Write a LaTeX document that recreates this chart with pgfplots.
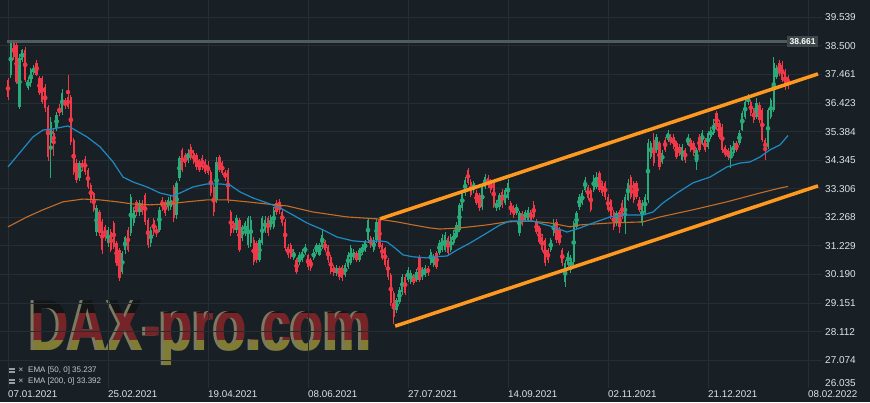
\documentclass[border=0pt]{standalone}
\usepackage{fontspec}
\setmainfont{Liberation Sans}
\usepackage{graphicx}
\usepackage{pgfplots}
\usepackage{pgfplotstable}
\pgfplotsset{compat=1.18}
\definecolor{bg}{RGB}{25,32,37}
\definecolor{gridc}{RGB}{38,46,52}
\definecolor{cup}{RGB}{41,171,121}
\definecolor{cdn}{RGB}{240,56,72}
\definecolor{emab}{RGB}{30,138,196}
\definecolor{emao}{RGB}{196,108,40}
\definecolor{chan}{RGB}{255,152,31}
\definecolor{hlinec}{RGB}{78,92,94}
\definecolor{hlbox}{RGB}{62,72,75}
\definecolor{lbl}{RGB}{222,226,229}
\definecolor{leg}{RGB}{196,201,205}
\definecolor{icon}{RGB}{150,158,162}
\definecolor{wmk}{RGB}{20,21,22}
\definecolor{wmr}{RGB}{118,36,40}
\definecolor{wmg}{RGB}{128,124,52}
\definecolor{wms}{RGB}{122,122,98}

\pgfplotstableread{
i o h l c
0 37.26 37.35 36.55 36.64
1 37.44 38.66 37.35 38.61
2 38.61 38.66 38.00 38.10
3 38.53 38.60 37.10 37.19
4 36.28 38.20 36.20 38.06
5 37.99 38.40 37.90 38.35
6 38.35 38.45 37.20 37.26
7 36.97 37.35 36.90 37.26
8 37.15 37.70 37.00 37.62
9 37.52 37.80 37.45 37.70
10 37.88 38.00 37.40 37.44
11 37.33 37.40 36.70 36.79
12 37.33 37.40 36.40 36.46
13 37.01 37.10 36.10 36.24
14 36.28 36.35 34.30 34.46
15 34.97 35.90 33.70 35.73
16 35.33 35.50 34.50 34.97
17 35.52 36.10 35.40 35.99
18 36.24 36.40 35.95 36.06
19 36.10 36.95 36.00 36.79
20 36.53 36.60 36.20 36.35
21 36.64 37.44 36.20 36.28
22 36.64 36.70 34.90 35.01
23 35.08 35.15 33.80 33.92
24 34.24 34.40 33.50 33.62
25 33.70 34.30 33.60 34.24
26 34.24 34.35 33.95 34.10
27 34.39 34.50 33.80 33.92
28 33.99 34.05 33.30 33.37
29 33.44 33.50 32.80 32.90
30 33.15 33.20 32.45 32.53
31 31.73 32.70 31.60 32.61
32 32.46 32.55 31.60 31.70
33 32.06 32.20 30.95 31.08
34 31.91 32.00 31.40 31.55
35 31.33 31.90 31.20 31.81
36 31.73 31.85 31.00 31.08
37 32.06 32.15 31.10 31.19
38 31.33 31.40 30.50 30.61
39 31.08 31.15 29.95 30.06
40 30.28 31.05 30.20 30.97
41 31.08 31.60 30.95 31.55
42 31.81 31.90 31.00 31.08
43 31.70 33.10 31.60 33.01
44 32.06 32.65 31.95 32.53
45 32.82 32.90 32.30 32.46
46 32.46 32.90 32.30 32.79
47 32.79 32.90 32.35 32.46
48 33.08 33.15 32.00 32.10
49 32.17 32.25 31.15 31.26
50 31.33 31.90 31.20 31.81
51 32.17 32.25 31.60 31.73
52 31.81 31.95 31.55 31.70
53 31.81 32.65 31.75 32.53
54 32.90 33.00 32.50 32.64
55 32.82 32.90 32.30 32.42
56 32.64 33.00 32.50 32.90
57 32.64 33.05 32.55 32.90
58 33.37 33.45 32.10 32.24
59 32.35 33.60 32.20 33.52
60 33.70 34.50 33.60 34.42
61 34.72 34.80 33.90 33.99
62 34.53 34.60 34.10 34.24
63 34.35 34.75 34.25 34.61
64 34.83 34.95 34.35 34.46
65 34.61 34.70 34.20 34.28
66 34.53 34.60 34.00 34.10
67 34.28 34.40 33.90 33.99
68 34.42 34.55 34.00 34.10
69 34.28 34.40 33.85 33.92
70 34.17 34.30 33.80 33.88
71 33.92 34.00 33.05 33.15
72 33.37 33.45 32.30 32.46
73 32.90 34.45 32.80 34.28
74 34.46 34.55 33.90 33.99
75 34.24 34.30 33.80 33.88
76 33.92 34.00 33.60 33.70
77 33.99 34.05 32.80 32.90
78 32.46 32.55 31.60 31.70
79 32.06 32.15 31.70 31.81
80 31.81 32.35 31.70 32.24
81 32.17 32.25 31.00 31.08
82 31.51 32.00 31.40 31.91
83 31.70 32.15 31.60 32.06
84 31.26 32.30 31.15 32.24
85 31.33 32.30 31.20 32.17
86 31.44 31.55 30.55 30.64
87 31.33 31.40 30.60 30.72
88 30.72 31.50 30.65 31.44
89 31.33 32.30 31.25 32.24
90 31.81 32.30 31.70 32.17
91 32.24 32.30 31.60 31.70
92 31.91 32.35 31.80 32.28
93 31.91 32.65 31.85 32.53
94 32.79 32.90 32.35 32.46
95 32.82 32.95 32.40 32.53
96 32.46 32.55 31.95 32.06
97 32.10 32.20 31.05 31.15
98 31.19 31.30 30.80 30.90
99 31.26 31.35 30.75 30.83
100 30.79 31.10 30.70 31.01
101 30.72 30.80 30.20 30.28
102 30.64 31.00 30.55 30.90
103 30.72 31.10 30.65 31.01
104 30.97 31.30 30.90 31.19
105 30.90 30.95 30.35 30.46
106 30.72 30.80 30.30 30.43
107 30.79 31.10 30.70 31.01
108 31.01 31.35 30.95 31.26
109 30.90 31.35 30.85 31.26
110 31.19 31.80 31.10 31.62
111 31.37 31.45 31.00 31.08
112 31.19 31.25 30.60 30.72
113 30.83 30.90 30.20 30.28
114 30.46 30.55 30.15 30.24
115 30.24 30.55 30.15 30.43
116 30.43 30.50 30.00 30.10
117 30.46 30.55 29.95 30.06
118 30.17 30.60 30.10 30.53
119 30.46 31.00 30.40 30.90
120 30.61 31.25 30.55 31.15
121 30.79 31.10 30.70 31.01
122 30.97 31.05 30.65 30.72
123 30.72 31.15 30.65 31.08
124 30.97 31.30 30.90 31.19
125 31.08 31.45 31.00 31.37
126 31.44 32.25 31.35 32.17
127 31.51 31.60 31.15 31.26
128 31.08 31.55 31.00 31.44
129 31.44 32.20 31.35 32.10
130 32.17 32.22 31.10 31.19
131 31.26 31.35 30.70 30.79
132 31.15 31.20 30.45 30.53
133 30.72 30.80 30.00 30.10
134 30.17 30.25 29.05 29.15
135 29.52 29.60 28.38 28.64
136 28.90 29.35 28.80 29.26
137 29.19 29.75 29.10 29.63
138 29.55 30.20 29.45 30.10
139 30.10 30.20 29.45 29.52
140 29.99 30.45 29.90 30.35
141 29.92 30.35 29.85 30.24
142 30.10 30.20 29.80 29.88
143 29.99 30.40 29.90 30.28
144 30.79 30.90 29.90 29.99
145 30.10 30.45 30.00 30.35
146 30.17 30.55 30.10 30.43
147 30.43 30.50 30.15 30.24
148 30.61 31.10 30.55 31.01
149 30.53 30.95 30.45 30.83
150 30.97 31.05 30.40 30.46
151 30.97 31.45 30.90 31.33
152 31.08 31.65 31.00 31.51
153 31.08 31.75 31.00 31.62
154 31.51 31.60 30.90 30.97
155 31.08 31.65 31.00 31.55
156 31.33 31.80 31.25 31.70
157 31.55 32.10 31.50 31.99
158 31.81 32.80 31.75 32.72
159 32.60 33.25 32.50 33.15
160 33.15 33.75 33.05 33.62
161 33.99 34.06 33.45 33.52
162 33.55 33.65 33.00 33.08
163 33.26 33.60 33.15 33.52
164 33.15 33.25 32.70 32.79
165 33.08 33.15 32.50 32.60
166 32.64 33.45 32.55 33.37
167 33.37 33.85 33.30 33.73
168 33.70 33.80 33.35 33.44
169 33.55 33.65 33.15 33.26
170 33.52 33.60 32.60 32.72
171 32.60 32.90 32.50 32.79
172 32.64 33.15 32.55 33.08
173 33.19 33.30 32.60 32.72
174 32.79 33.35 32.70 33.26
175 32.97 33.65 32.90 33.52
176 32.79 32.85 32.35 32.46
177 32.60 32.70 32.25 32.35
178 32.42 32.75 32.35 32.64
179 31.70 32.50 31.60 32.42
180 32.42 32.50 31.95 32.06
181 32.17 32.55 32.10 32.46
182 32.17 32.65 32.10 32.53
183 32.46 32.55 32.10 32.17
184 32.72 32.85 32.20 32.28
185 32.10 32.20 31.65 31.73
186 31.88 31.95 31.30 31.37
187 31.55 31.65 31.00 31.08
188 31.44 31.50 30.50 30.61
189 31.08 31.15 30.60 30.72
190 31.08 31.50 31.00 31.44
191 31.70 32.20 31.60 32.06
192 32.10 32.20 31.35 31.44
193 31.81 31.90 31.25 31.33
194 31.08 31.15 30.50 30.61
195 29.92 30.70 29.73 30.61
196 30.53 31.05 30.45 30.97
197 30.35 30.90 30.25 30.79
198 30.64 32.15 30.55 32.06
199 31.91 32.50 31.85 32.42
200 32.64 33.10 32.55 33.01
201 32.79 33.25 32.70 33.15
202 33.26 33.75 33.20 33.62
203 33.37 33.45 32.90 32.97
204 33.26 33.35 32.45 32.53
205 33.26 33.80 33.20 33.70
206 33.37 33.92 33.30 33.73
207 33.88 33.95 33.20 33.26
208 33.52 33.60 33.05 33.15
209 33.52 33.60 32.90 33.01
210 33.01 33.10 32.45 32.53
211 32.90 32.95 32.20 32.28
212 32.46 32.55 31.80 31.91
213 32.06 32.50 31.95 32.42
214 32.46 32.55 31.70 31.91
215 32.79 32.90 32.20 32.28
216 32.06 33.10 31.65 33.01
217 32.90 33.65 32.85 33.52
218 33.73 33.80 32.95 33.01
219 33.52 33.60 32.80 32.90
220 33.52 33.60 32.95 33.01
221 32.90 33.00 32.45 32.53
222 32.06 32.90 31.95 32.79
223 32.46 33.10 32.40 33.01
224 32.90 35.10 32.80 34.97
225 34.46 35.05 34.40 34.97
226 35.08 35.33 34.15 34.24
227 34.72 35.30 34.60 35.19
228 34.97 35.05 34.00 34.10
229 34.28 34.70 34.20 34.61
230 35.08 35.20 34.65 34.72
231 35.08 35.45 35.00 35.33
232 35.19 35.30 34.90 34.97
233 35.19 35.30 34.75 34.83
234 34.97 35.05 34.40 34.46
235 34.83 34.95 34.50 34.61
236 34.35 34.95 34.30 34.83
237 34.72 34.80 34.25 34.35
238 34.90 35.30 34.85 35.19
239 35.08 35.15 34.65 34.72
240 34.97 35.05 34.50 34.61
241 34.28 34.80 33.99 34.72
242 35.19 35.30 34.65 34.72
243 34.97 35.45 34.90 35.33
244 35.08 35.15 34.65 34.72
245 34.83 35.40 34.75 35.33
246 35.19 35.55 35.10 35.44
247 35.33 35.85 35.25 35.70
248 36.06 36.15 35.45 35.55
249 35.70 35.80 35.10 35.19
250 35.55 35.65 34.60 34.72
251 34.83 34.90 34.45 34.53
252 34.72 34.80 34.35 34.46
253 34.42 34.90 34.06 34.79
254 34.61 35.05 34.50 34.97
255 34.97 35.05 34.65 34.72
256 34.97 35.45 34.90 35.33
257 35.44 36.15 35.40 36.06
258 35.92 36.55 35.85 36.46
259 36.46 36.75 36.35 36.61
260 36.46 36.55 35.95 36.06
261 36.17 36.25 35.70 35.81
262 35.92 36.60 35.85 36.42
263 36.35 36.45 35.70 35.81
264 36.17 36.25 35.00 35.08
265 35.08 35.15 34.35 34.72
266 34.83 36.25 34.75 36.17
267 35.92 36.60 35.85 36.53
268 36.17 38.10 36.10 37.88
269 37.37 37.80 37.30 37.70
270 37.88 38.00 37.40 37.52
271 37.81 37.95 37.20 37.26
272 37.55 37.65 36.90 37.08
273 37.35 37.45 36.95 37.10
}\ohlc

\newcommand\wm{\scalebox{0.737}[1]{\fontsize{72.6}{72.6}\selectfont\bfseries DAX-pro.com}}

\begin{document}
\begin{tikzpicture}
\path[use as bounding box] (0pt,0pt) rectangle (870pt,402pt);
\fill[bg] (0pt,0pt) rectangle (870pt,402pt);

% watermark
\node[anchor=base west, inner sep=0pt, text=wms] at (27pt,52pt) {\wm};
\begin{scope}
  \clip (0pt,89pt) rectangle (400pt,130pt);
  \node[anchor=base west, inner sep=0pt, text=wmk] at (30pt,52pt) {\wm};
\end{scope}
\begin{scope}
  \clip (0pt,62pt) rectangle (400pt,89pt);
  \node[anchor=base west, inner sep=0pt, text=wmr] at (30pt,52pt) {\wm};
\end{scope}
\begin{scope}
  \clip (0pt,20pt) rectangle (400pt,62pt);
  \node[anchor=base west, inner sep=0pt, text=wmg] at (30pt,52pt) {\wm};
\end{scope}

\begin{axis}[
  at={(0pt,14pt)}, anchor=south west,
  width=822pt, height=388pt, scale only axis,
  xmin=-2.8, xmax=284.9, ymin=26.06, ymax=40.168,
  clip mode=individual,
  axis line style={draw=none}, tick style={draw=none},
  xtick={0,35,70,105,140,175,210,245,280},
  xticklabels={07.01.2021,25.02.2021,19.04.2021,08.06.2021,27.07.2021,14.09.2021,02.11.2021,21.12.2021,08.02.2022},
  ytick={39.539,38.5,37.461,36.423,35.384,34.345,33.306,32.268,31.229,30.19,29.151,28.112,27.074},
  yticklabels={39.539,38.500,37.461,36.423,35.384,34.345,33.306,32.268,31.229,30.190,29.151,28.112,27.074},
  xmajorgrids, ymajorgrids, grid style={gridc, line width=0.8pt},
  yticklabel pos=right,
  yticklabel style={anchor=west, inner sep=0pt, xshift=3pt, font=\fontsize{10}{12}\selectfont, text=lbl},
  xticklabel style={anchor=north west, inner sep=0pt, yshift=-2.5pt, font=\fontsize{9.8}{11}\selectfont, text=lbl},
  unbounded coords=discard,
]
% wicks
\addplot[color=cup, only marks, mark=none, forget plot, error bars/.cd, y dir=both, y explicit, error mark=none,
  error bar style={draw=cup, line width=0.9pt}]
  table[x=i, y expr={\thisrow{c}>=\thisrow{o} ? (\thisrow{h}+\thisrow{l})/2 : nan}, y error expr={(\thisrow{h}-\thisrow{l})/2}] {\ohlc};
\addplot[color=cdn, only marks, mark=none, forget plot, error bars/.cd, y dir=both, y explicit, error mark=none,
  error bar style={draw=cdn, line width=0.9pt}]
  table[x=i, y expr={\thisrow{c}<\thisrow{o} ? (\thisrow{h}+\thisrow{l})/2 : nan}, y error expr={(\thisrow{h}-\thisrow{l})/2}] {\ohlc};
% bodies
\addplot[color=cup, only marks, mark=none, forget plot, error bars/.cd, y dir=both, y explicit, error mark=none,
  error bar style={draw=cup, line width=2.2pt}]
  table[x=i, y expr={\thisrow{c}>=\thisrow{o} ? (\thisrow{o}+\thisrow{c})/2 : nan}, y error expr={abs(\thisrow{c}-\thisrow{o})/2+0.01}] {\ohlc};
\addplot[color=cdn, only marks, mark=none, forget plot, error bars/.cd, y dir=both, y explicit, error mark=none,
  error bar style={draw=cdn, line width=2.2pt}]
  table[x=i, y expr={\thisrow{c}<\thisrow{o} ? (\thisrow{o}+\thisrow{c})/2 : nan}, y error expr={abs(\thisrow{c}-\thisrow{o})/2+0.01}] {\ohlc};

% EMA 200
\addplot[emao, line width=1.1pt, mark=none] coordinates {
(0,31.92) (6.65,32.28) (12.25,32.54) (19.25,32.83) (26.25,32.93) (32.2,32.90) (38.15,32.83) (43.75,32.75) (49.7,32.72) (55.65,32.75) (62.65,32.83) (69.65,32.90) (76.65,32.90) (83.65,32.83) (90.65,32.75) (97.65,32.68) (106.75,32.46) (118.65,32.28) (129.15,32.21) (136.15,32.10) (141.75,31.99) (147.7,31.88) (151.2,31.84) (158.2,31.88) (167.65,31.99) (174.65,32.10) (182.7,32.13) (189.7,32.06) (196.7,31.92) (200.2,31.99) (210.7,32.06) (222.25,32.10) (228.2,32.28) (239.75,32.54) (251.65,32.83) (263.2,33.15) (270.2,33.33) (273,33.39)};
% EMA 50
\addplot[emab, line width=1.2pt, mark=none] coordinates {
(0,34.10) (8.75,35.19) (12.25,35.44) (15.75,35.48) (21,35.59) (27.65,35.19) (32.2,34.83) (36.75,34.28) (40.25,33.73) (43.75,33.55) (48.65,33.37) (53.2,33.15) (57.75,33.04) (60.2,33.15) (64.75,33.37) (69.65,33.48) (74.2,33.48) (77.7,33.44) (81.2,33.19) (85.75,32.97) (90.65,32.79) (95.2,32.61) (99.75,32.35) (104.65,32.06) (110.25,31.81) (115.15,31.55) (120.75,31.41) (125.65,31.37) (130.2,31.41) (132.65,31.37) (135.45,31.15) (138.25,30.90) (141.75,30.83) (146.65,30.79) (148.75,30.83) (153.65,30.86) (157.15,31.08) (161.7,31.33) (167.65,31.70) (172.2,31.99) (175.7,32.13) (179.2,32.13) (183.75,32.13) (187.25,32.02) (190.75,31.92) (195.65,31.73) (200.2,31.88) (204.75,32.06) (210.7,32.28) (216.65,32.35) (222.25,32.35) (225.75,32.46) (229.25,32.79) (234.15,33.15) (239.75,33.52) (245.7,33.73) (251.65,34.10) (256.2,34.24) (259.7,34.28) (263.2,34.46) (266.7,34.72) (270.2,34.90) (273,35.24)};

% high line
\addplot[draw=hlinec, line width=2.5pt, mark=none] coordinates {(-0.35,38.661) (272.7,38.661)};
% channel
\addplot[chan, line width=3.5pt, mark=none] coordinates {(130.2,32.21) (283.5,37.48)};
\addplot[chan, line width=3.5pt, mark=none] coordinates {(135.5,28.31) (283.5,33.41)};

\node[fill=hlbox, text=white, inner sep=0pt, minimum width=31pt, minimum height=11.5pt, font=\fontsize{8.5}{9}\selectfont\bfseries] at (axis cs:278.1,38.661) {38.661};
\node[anchor=west, inner sep=0pt, xshift=3pt, text=lbl, font=\fontsize{10}{12}\selectfont] at (axis cs:284.9,26.24) {26.035};
\end{axis}

% legend
\fill[icon] (9pt,29.5pt) rectangle (15pt,34.5pt);
\draw[bg, line width=0.6pt] (9pt,32pt) -- (15pt,32pt);
\node[text=icon, inner sep=0pt, font=\fontsize{8}{9}\selectfont\bfseries] at (21pt,32pt) {×};
\node[anchor=west, inner sep=0pt, text=leg, font=\fontsize{8}{9}\selectfont] at (28pt,32pt) {EMA [50, 0] 35.237};
\fill[icon] (9pt,18pt) rectangle (15pt,23pt);
\draw[bg, line width=0.6pt] (9pt,20.5pt) -- (15pt,20.5pt);
\node[text=icon, inner sep=0pt, font=\fontsize{8}{9}\selectfont\bfseries] at (21pt,20.5pt) {×};
\node[anchor=west, inner sep=0pt, text=leg, font=\fontsize{8}{9}\selectfont] at (28pt,20.5pt) {EMA [200, 0] 33.392};
\end{tikzpicture}
\end{document}
